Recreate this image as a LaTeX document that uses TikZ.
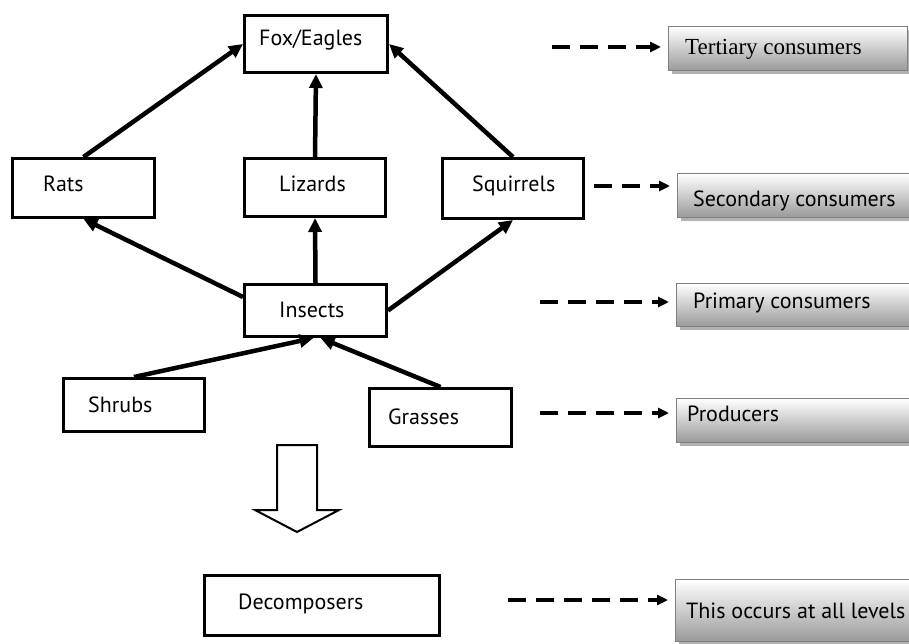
\documentclass[tikz,border=0pt]{standalone}
\usepackage{fontspec}
\setmainfont{PT Sans}
\newfontfamily\timesface{Liberation Serif}
\usetikzlibrary{arrows.meta,shadows,calc}
\begin{document}
\begin{tikzpicture}[x=1pt,y=-1pt,
  box/.style={draw, line width=3pt, inner sep=0pt, anchor=north west},
  lbl/.style={anchor=base west, inner sep=0pt, font=\fontsize{22}{22}\selectfont},
  feed/.style={line width=4.5pt, -{Triangle[length=14pt,width=13pt]}},
  levelbox/.style={draw=black!50, line width=1.2pt, inner sep=0pt, anchor=north west,
    top color=white, bottom color=black!40,
    drop shadow={shadow xshift=3pt, shadow yshift=-3pt, fill=black!30, opacity=1}},
  levelarrow/.style={line width=3.5pt, dash pattern=on 18pt off 10pt,
    -{Triangle[length=11pt,width=10pt]}, shorten >=7pt}
]
\useasboundingbox (0,0) rectangle (909,644);

% food web boxes
\node[box, minimum width=143pt, minimum height=57pt] (fox) at (243,14) {};
\node[box, minimum width=142pt, minimum height=59pt] (rats) at (11,157) {};
\node[box, minimum width=141pt, minimum height=58pt] (lizards) at (243,157) {};
\node[box, minimum width=141pt, minimum height=60pt] (squirrels) at (441,157) {};
\node[box, minimum width=142pt, minimum height=52pt] (insects) at (243,283) {};
\node[box, minimum width=141pt, minimum height=53pt] (shrubs) at (62,377) {};
\node[box, minimum width=142pt, minimum height=58pt] (grasses) at (368,387) {};
\node[box, minimum width=235pt, minimum height=60pt] (decomp) at (203,574) {};

% box texts
\node[lbl] (foxT) at (259,46) {Fox/Eagles};
\node[lbl] (ratsT) at (43,192) {Rats};
\node[lbl] (lizardsT) at (279,192) {Lizards};
\node[lbl] (squirrelsT) at (472,192) {Squirrels};
\node[lbl] (insectsT) at (279,317) {Insects};
\node[lbl] (shrubsT) at (88,412) {Shrubs};
\node[lbl] (grassesT) at (388,424) {Grasses};
\node[lbl] (decompT) at (238,609) {Decomposers};

% trophic level boxes
\node[levelbox, minimum width=239pt, minimum height=44pt] (tert) at (668,26) {};
\node[levelbox, minimum width=236pt, minimum height=44pt] (sec) at (677,173) {};
\node[levelbox, minimum width=237pt, minimum height=43pt] (prim) at (676,283) {};
\node[levelbox, minimum width=237pt, minimum height=44pt] (prod) at (676,398) {};
\node[levelbox, minimum width=238pt, minimum height=62pt] (all) at (675,579) {};

\node[lbl, font=\timesface\fontsize{23}{23}\selectfont] (tertT) at (685,55) {Tertiary consumers};
\node[lbl] (secT) at (693,207) {Secondary consumers};
\node[lbl] (primT) at (693,308) {Primary consumers};
\node[lbl] (prodT) at (687,421) {Producers};
\node[lbl] (allT) at (686,618) {This occurs at all levels};

% feeding links
\draw[feed] (rats.north) -- (fox.west);
\draw[feed] (lizards.north) -- (fox.south);
\draw[feed] (squirrels.north) -- (fox.east);
\draw[feed] ($(insects.north west)+(0,14)$) -- (rats.south);
\draw[feed] (insects.north) -- (lizards.south);
\draw[feed] (insects.east) -- (squirrels.south);
\draw[feed] (shrubs.north) -- ($(insects.south)+(-2,0)$);
\draw[feed] (grasses.north) -- ($(insects.south)+(5,0)$);

% decomposition arrow
\draw[line width=2pt, fill=white] (277,445) -- (317,445) -- (317,510) -- (339,510)
  -- (297,532) -- (255,510) -- (277,510) -- cycle;

% level pointers
\coordinate (p1) at (552,47);
\coordinate (p2) at (594,186);
\coordinate (p3) at (540,302);
\coordinate (p4) at (540,413);
\coordinate (p5) at (508,600);
\draw[levelarrow] (p1) -- (tert.west |- p1);
\draw[levelarrow] (p2) -- (sec.west |- p2);
\draw[levelarrow] (p3) -- (prim.west |- p3);
\draw[levelarrow] (p4) -- (prod.west |- p4);
\draw[levelarrow] (p5) -- (all.west |- p5);
\end{tikzpicture}
\end{document}
